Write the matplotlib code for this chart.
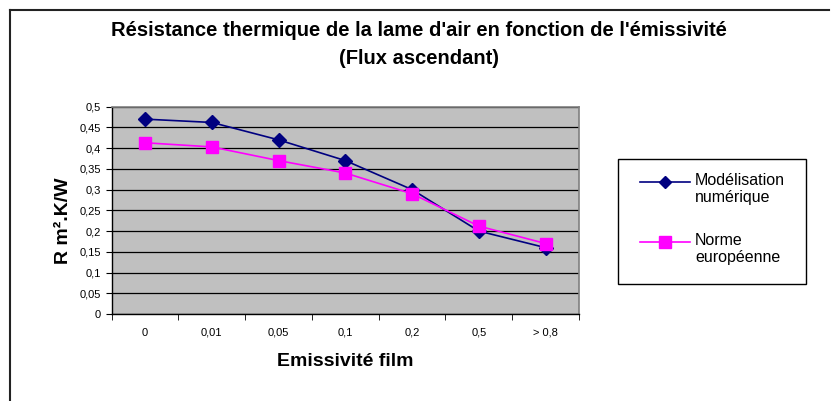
import matplotlib
matplotlib.use("Agg")
import matplotlib.pyplot as plt
import numpy as np
from matplotlib.lines import Line2D
from matplotlib.patches import Rectangle

plt.rcParams['font.family'] = ['Liberation Sans', 'DejaVu Sans']

categories = ["0", "0,01", "0,05", "0,1", "0,2", "0,5", "> 0,8"]
modelisation = [0.47, 0.462, 0.42, 0.37, 0.30, 0.20, 0.16]
norme = [0.413, 0.403, 0.37, 0.34, 0.29, 0.212, 0.17]
yticks = [0, 0.05, 0.1, 0.15, 0.2, 0.25, 0.3, 0.35, 0.4, 0.45, 0.5]
ytick_labels = ["0", "0,05", "0,1", "0,15", "0,2", "0,25", "0,3", "0,35", "0,4", "0,45", "0,5"]
series_names = ["Modélisation\nnumérique", "Norme\neuropéenne"]

W, H = 832, 401
fig = plt.figure(figsize=(W / 100, H / 100), dpi=100)
fig.patch.set_facecolor('white')

def fx(px):
    return px / W

def fy(py):
    return 1 - py / H

# outer frame (top and left edges visible)
fig.add_artist(Line2D([fx(10), fx(10)], [0, fy(10)], color='#222222', lw=1.5, transform=fig.transFigure))
fig.add_artist(Line2D([fx(10), fx(829)], [fy(10), fy(10)], color='#222222', lw=1.5, transform=fig.transFigure))

ax = fig.add_axes([fx(111.7), fy(314), (579 - 111.7) / W, (314 - 106.7) / H])
ax.set_facecolor('#C0C0C0')
x = np.arange(len(categories))
ax.set_xlim(-0.5, len(categories) - 0.5)
ax.set_ylim(0, 0.5)
ax.set_yticks(yticks)
ax.set_yticklabels(ytick_labels, fontsize=8)
ax.yaxis.grid(True, color='black', lw=0.9)
ax.set_axisbelow(True)

ax.set_xticks(x)
ax.set_xticklabels(categories, fontsize=8)
ax.tick_params(axis='x', which='major', length=0, pad=10)
ax.set_xticks(np.arange(-0.5, len(categories), 1), minor=True)
ax.tick_params(axis='x', which='minor', length=4.3, direction='out', color='black')
ax.tick_params(axis='y', length=4.3, direction='out', pad=3.6)

for s in ['top', 'right']:
    ax.spines[s].set_color('#808080')
    ax.spines[s].set_linewidth(1.2)
for s in ['left', 'bottom']:
    ax.spines[s].set_color('black')
    ax.spines[s].set_linewidth(1.0)

styles = [dict(color='#000080', marker='D', markersize=7.5),
          dict(color='#FF00FF', marker='s', markersize=9)]
for vals, st in zip([modelisation, norme], styles):
    ax.plot(x, vals, color=st['color'], lw=1.2, marker=st['marker'], markersize=st['markersize'],
            markerfacecolor=st['color'], markeredgecolor=st['color'])

fig.text(fx(345), fy(362), 'Emissivité film', ha='center', va='center', fontsize=14, fontweight='bold')
fig.text(fx(64), fy(221), 'R m².K/W', ha='center', va='center', rotation=90, fontsize=14, fontweight='bold')

fig.text(fx(419), fy(30), "Résistance thermique de la lame d'air en fonction de l'émissivité",
         ha='center', va='center', fontsize=14.5, fontweight='bold')
fig.text(fx(419), fy(58), "(Flux ascendant)",
         ha='center', va='center', fontsize=14.5, fontweight='bold')

# legend box
fig.add_artist(Rectangle((fx(618), fy(284)), (806 - 618) / W, (284 - 159) / H,
                         transform=fig.transFigure, facecolor='white', edgecolor='black', lw=1.0))
handle_y = [182, 242]
for name, st, hy in zip(series_names, styles, handle_y):
    fig.add_artist(Line2D([fx(640), fx(690)], [fy(hy), fy(hy)], color=st['color'], lw=1.2,
                          transform=fig.transFigure))
    fig.add_artist(Line2D([fx(665)], [fy(hy)], color=st['color'], marker=st['marker'],
                          markersize=st['markersize'] - 1, markerfacecolor=st['color'],
                          markeredgecolor=st['color'], transform=fig.transFigure))
    fig.text(fx(695), fy(hy - 9), name, ha='left', va='top', fontsize=11.5, linespacing=1.2)

fig.savefig('out.png', dpi=100)
